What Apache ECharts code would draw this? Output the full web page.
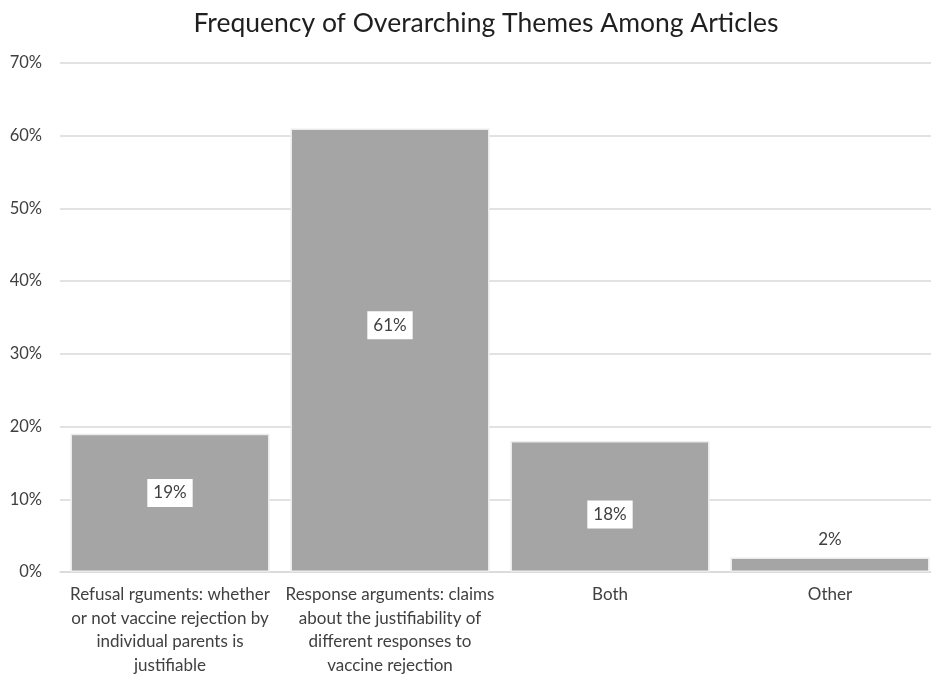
<!DOCTYPE html>
<html>
<head>
<meta charset="utf-8">
<script src="https://cdn.jsdelivr.net/npm/echarts@6/dist/echarts.min.js"></script>
<style>
  html, body { margin: 0; padding: 0; background: #ffffff; }
  #chart { width: 931px; height: 675px; }
</style>
</head>
<body>
<div id="chart"></div>
<script>
// Share of articles by overarching theme (percent)
const categories = [
  'Refusal rguments: whether\nor not vaccine rejection by\nindividual parents is\njustifiable',
  'Response arguments: claims\nabout the justifiability of\ndifferent responses to\nvaccine rejection',
  'Both',
  'Other'
];
const shares = [19, 61, 18, 2];
const yTicks = { min: 0, max: 70, step: 10 };

const FONT = 'Lato, "Open Sans", sans-serif';

const chart = echarts.init(document.getElementById('chart'));

// Boxed labels sit inside the taller bars; the tiny bar gets its label above it
const labelShifts = [-10, -25, 8, 0];
const barData = shares.map((v, i) => {
  const item = { value: v };
  if (v < 5) {
    item.label = { position: 'top', backgroundColor: 'transparent', padding: 0, offset: [0, -4] };
  } else {
    item.label = { offset: [0, labelShifts[i]] };
  }
  return item;
});

chart.setOption({
  backgroundColor: '#ffffff',
  animation: false,
  title: {
    text: 'Frequency of Overarching Themes Among Articles',
    left: 481,
    textAlign: 'center',
    top: 5,
    textStyle: { fontFamily: FONT, fontSize: 26.5, fontWeight: 'normal', color: '#1f1f1f' }
  },
  grid: { left: 60, width: 880, top: 63, bottom: 103, containLabel: false, outerBoundsMode: 'none' },
  xAxis: {
    type: 'category',
    data: categories,
    axisLine: { show: true, lineStyle: { color: '#d9d9d9', width: 1.5 } },
    axisTick: { show: false },
    axisLabel: {
      interval: 0,
      margin: 11,
      fontFamily: FONT,
      fontSize: 17,
      lineHeight: 23.5,
      color: '#404040',
      align: 'center'
    }
  },
  yAxis: {
    type: 'value',
    min: yTicks.min,
    max: yTicks.max,
    interval: yTicks.step,
    axisLine: { show: false },
    axisTick: { show: false },
    splitLine: { lineStyle: { color: '#d9d9d9', width: 1.5 } },
    axisLabel: {
      formatter: '{value}%',
      margin: 18,
      fontFamily: FONT,
      fontSize: 16.5,
      color: '#404040'
    }
  },
  series: [{
    type: 'bar',
    data: barData,
    barWidth: 199,
    itemStyle: { color: '#a5a5a5', borderColor: '#ececec', borderWidth: 1.5 },
    label: {
      show: true,
      position: 'inside',
      formatter: p => Math.round(p.value) + '%',
      fontFamily: FONT,
      fontSize: 17,
      color: '#404040',
      backgroundColor: '#ffffff',
      padding: [6, 6, 5, 6]
    }
  }]
});
</script>
</body>
</html>
